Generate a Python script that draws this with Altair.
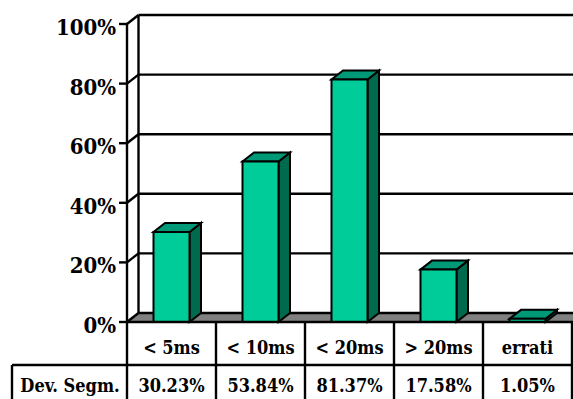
import altair as alt
import pandas as pd

# ---- data ----
categories = ["< 5ms", "< 10ms", "< 20ms", "> 20ms", "errati"]
values = [30.23, 53.84, 81.37, 17.58, 1.05]
series_name = "Dev. Segm."
y_ticks = [0, 20, 40, 60, 80, 100]

# ---- layout geometry (pixels) ----
W, H = 573, 399
AXIS_X = 127          # front value axis / left edge of the data table
COL_W = 89            # width of one category column
ZERO_Y = 322          # pixel row of 0 %
FULL_Y = 24           # pixel row of 100 %
PX_PER_PCT = (ZERO_Y - FULL_Y) / 100
DEPTH_X, DEPTH_Y = 11.5, 9   # oblique depth of the 3-D effect
BAR_W = 36
TABLE_ROW_Y = 365     # line between the category row and the value row
TABLE_LEFT = 12       # left border of the series-name cell
TICK_LEFT = 119       # start of the small tick stubs


def cu(px):
    """pixel column -> category units"""
    return (px - AXIS_X) / COL_W


def pu(py):
    """pixel row -> percent units"""
    return (ZERO_Y - py) / PX_PER_PCT


X_DOM = [cu(0), cu(W)]
Y_DOM = [pu(H), pu(0)]
DX = DEPTH_X / COL_W
DY = DEPTH_Y / PX_PER_PCT
HALF = BAR_W / 2 / COL_W
X_END = X_DOM[1] + 0.2
Y_END = Y_DOM[0] - 2

xs = alt.Scale(domain=X_DOM, nice=False, zero=False)
ys = alt.Scale(domain=Y_DOM, nice=False, zero=False)

FRONT = "#00CC99"
TOP = "#009977"
SIDE = "#006A4E"
FLOOR = "#808080"
LW = 2.4
FONT = "DejaVu Serif Condensed, DejaVu Serif"


def X(f):
    return alt.X(f, type="quantitative", scale=xs, axis=None)


def Y(f):
    return alt.Y(f, type="quantitative", scale=ys, axis=None)


# ---- tables built from the data ----
n = len(categories)
centers = [i + 0.5 for i in range(n)]
bars = pd.DataFrame({
    "cat": categories,
    "v": values,
    "xl": [c - HALF for c in centers],
    "xr": [c + HALF for c in centers],
    "base": [0.0] * n,
})

side_rows, top_rows = [], []
for i, (c, v) in enumerate(zip(centers, values)):
    xl, xr = c - HALF, c + HALF
    side_rows += [
        {"bar": i, "x": xr, "y": 0.0, "y2": v},
        {"bar": i, "x": xr + DX, "y": DY, "y2": v + DY},
    ]
    top_rows += [
        {"bar": i, "y": v, "x": xl, "x2": xr},
        {"bar": i, "y": v + DY, "x": xl + DX, "x2": xr + DX},
    ]
side = pd.DataFrame(side_rows)
top = pd.DataFrame(top_rows)

ticks = pd.DataFrame({
    "t": y_ticks,
    "tb": [t + DY for t in y_ticks],
    "label": [f"{t}%" for t in y_ticks],
    "x0": [0.0] * len(y_ticks),
    "xb": [DX] * len(y_ticks),
    "xs": [cu(TICK_LEFT)] * len(y_ticks),
    "xe": [X_END] * len(y_ticks),
    "xl": [cu(116)] * len(y_ticks),
})

floor = pd.DataFrame({"y": [0.0, DY], "x": [0.0, DX], "x2": [X_END, X_END]})

# ---- back wall and floor ----
floor_layer = alt.Chart(floor).mark_area(orient="horizontal", color=FLOOR).encode(
    x=X("x"), x2="x2", y=Y("y"))

grid = alt.Chart(ticks).mark_rule(color="black", strokeWidth=LW).encode(
    x=X("xb"), x2="xe", y=Y("tb"))

wall_edge = alt.Chart(pd.DataFrame({"x": [DX], "y": [DY], "y2": [100 + DY]})).mark_rule(
    color="black", strokeWidth=LW).encode(x=X("x"), y=Y("y"), y2="y2")

# ---- front value axis ----
axis_line = alt.Chart(pd.DataFrame({"x": [0.0], "y": [100.0], "y2": [Y_END]})).mark_rule(
    color="black", strokeWidth=LW).encode(x=X("x"), y=Y("y"), y2="y2")

tick_stubs = alt.Chart(ticks).mark_rule(color="black", strokeWidth=LW).encode(
    x=X("xs"), x2="x0", y=Y("t"))

tick_diag = alt.Chart(ticks).mark_rule(color="black", strokeWidth=LW).encode(
    x=X("x0"), y=Y("t"), x2="xb", y2="tb")

tick_labels = alt.Chart(ticks).mark_text(
    align="right", baseline="alphabetic", dy=11, font=FONT, fontWeight="bold",
    fontSize=22, color="black").encode(x=X("xl"), y=Y("t"), text="label")

# ---- data table grid ----
hlines = pd.DataFrame({
    "x": [0.0, cu(TABLE_LEFT)],
    "x2": [X_END, X_END],
    "y": [0.0, pu(TABLE_ROW_Y)],
})
table_h = alt.Chart(hlines).mark_rule(color="black", strokeWidth=LW).encode(
    x=X("x"), x2="x2", y=Y("y"))

vlines = pd.DataFrame({
    "x": [float(i + 1) for i in range(n)] + [cu(TABLE_LEFT)],
    "y": [0.0] * n + [pu(TABLE_ROW_Y)],
    "y2": [Y_END] * (n + 1),
})
table_v = alt.Chart(vlines).mark_rule(color="black", strokeWidth=LW).encode(
    x=X("x"), y=Y("y"), y2="y2")

# ---- 3-D bars ----
front_faces = alt.Chart(bars).mark_rect(
    color=FRONT, stroke="black", strokeWidth=2).encode(
    x=X("xl"), x2="xr", y=Y("base"), y2="v")

side_faces = alt.Chart(side).mark_area(
    orient="vertical", color=SIDE, stroke="black", strokeWidth=2).encode(
    x=X("x"), y=Y("y"), y2="y2", detail="bar:N")

top_faces = alt.Chart(top).mark_area(
    orient="horizontal", color=TOP, stroke="black", strokeWidth=2).encode(
    y=Y("y"), x=X("x"), x2="x2", detail="bar:N")

# ---- table text ----
labels = pd.DataFrame({
    "x": centers,
    "cat": categories,
    "val": [f"{v:.2f}%" for v in values],
    "yc": [pu(354)] * n,
    "yv": [pu(392)] * n,
})
text_style = dict(align="center", baseline="alphabetic", font=FONT,
                  fontWeight="bold", fontSize=18, color="black")

cat_text = alt.Chart(labels).mark_text(**text_style).encode(
    x=X("x"), y=Y("yc"), text="cat")

val_text = alt.Chart(labels).mark_text(**text_style).encode(
    x=X("x"), y=Y("yv"), text="val")

name_text = alt.Chart(pd.DataFrame({"x": [cu(70)], "y": [pu(392)], "t": [series_name]})).mark_text(
    **text_style).encode(x=X("x"), y=Y("y"), text="t")

chart = alt.layer(
    floor_layer, grid, wall_edge, axis_line, tick_stubs, tick_diag,
    side_faces, top_faces, front_faces,
    table_h, table_v, tick_labels, cat_text, val_text, name_text,
).properties(
    width=W, height=H, autosize=alt.AutoSizeParams(type="none"), padding=0,
    background="white",
).configure_view(stroke=None)

chart.save("out.html", embed_options={"renderer": "svg", "actions": False})
